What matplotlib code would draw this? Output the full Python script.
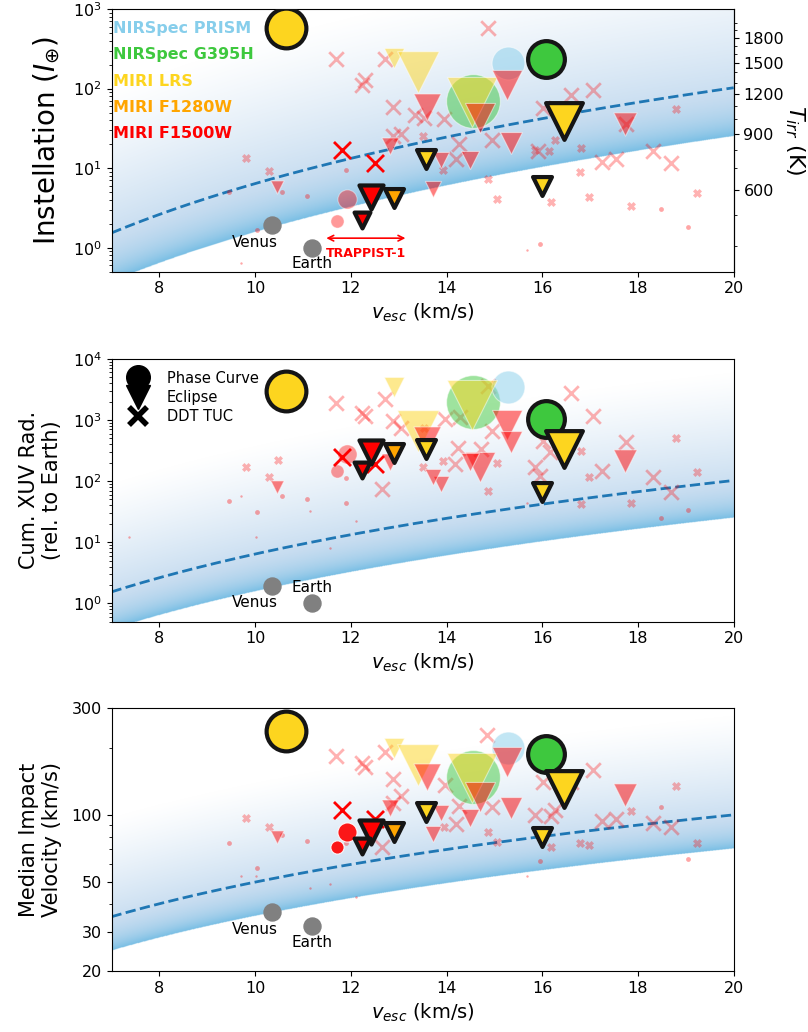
import numpy as np
import matplotlib
matplotlib.use('Agg')
import matplotlib.pyplot as plt
from matplotlib.colors import LinearSegmentedColormap
from matplotlib.lines import Line2D
from matplotlib.ticker import FixedLocator, NullFormatter, FixedFormatter

# ---------------- data ----------------
# highlighted targets (black outline)
hl_vesc = [10.65, 16.07, 16.46, 13.57, 15.99, 12.91, 12.42, 12.23]
hl_inst = [571, 234, 39.7, 13.2, 5.9, 4.2, 4.36, 2.24]
hl_xuv = [2950, 1042, 331, 337, 65.6, 293, 296, 152]
hl_vimp = [238, 188, 130, 103, 79.3, 84, 84, 72.3]
hl_obs = ['phase', 'phase', 'eclipse', 'eclipse', 'eclipse', 'eclipse', 'eclipse', 'eclipse']
hl_mode = ['MIRI LRS', 'NIRSpec G395H', 'MIRI LRS', 'MIRI LRS', 'MIRI LRS',
           'MIRI F1280W', 'MIRI F1500W', 'MIRI F1500W']
hl_size = [820, 700, 700, 185, 185, 185, 300, 130]

# other programs (semi transparent)
ot_vesc = [14.55, 15.29, 11.92, 11.72,
           12.91, 13.41, 14.53,
           15.26, 13.59, 14.70, 12.82, 15.34, 14.49, 13.88, 13.71, 10.45, 17.73]
ot_inst = [70, 208, 4.1, 2.2,
           240, 163, 68,
           111, 59.5, 43.3, 19.1, 20.7, 12.8, 12.5, 5.4, 5.8, 36]
ot_xuv = [1950, 3520, 279, 149,
          3430, 670, 1786,
          841, 472, 168, 203, 431, 203, 90, 115, 79, 211]
ot_vimp = [147, 199, 84, 72,
           199, 167, 146,
           173, 147, 120, 107, 107, 96.5, 102, 82, 80, 123]
ot_obs = ['phase'] * 4 + ['eclipse'] * 13
ot_mode = ['NIRSpec G395H', 'NIRSpec PRISM', 'MIRI F1500W', 'MIRI F1500W',
           'MIRI LRS', 'MIRI LRS', 'MIRI LRS'] + ['MIRI F1500W'] * 10
ot_size = [1500, 560, 190, 90,
           210, 900, 1300,
           470, 380, 470, 150, 250, 170, 135, 135, 90, 280]

# DDT TUC targets
ddt_vesc = [11.81, 12.51]
ddt_inst = [17.1, 11.6]
ddt_xuv = [245, 191]
ddt_vimp = [105, 96]

# solar system
ss_name = ['Venus', 'Earth']
ss_vesc = [10.36, 11.19]
ss_inst = [1.91, 1.0]
ss_xuv = [1.9, 1.0]
ss_vimp = [36.6, 31.8]

# background population, per panel: (v_esc, value)
bg_bigx = [
    [(11.69, 237), (12.30, 128), (12.23, 111), (12.72, 237), (14.86, 571), (12.89, 59.5),
     (13.34, 45.9), (13.54, 42.6), (13.95, 41.7), (13.04, 26.8), (12.88, 25.0), (14.27, 20.3),
     (14.19, 13.0), (14.95, 22.8), (16.6, 83.4), (17.07, 96.4), (16.02, 56.8), (15.92, 16.2),
     (17.24, 11.8), (17.54, 13), (18.32, 16.2), (18.69, 11.6), (17.75, 36)],
    [(11.69, 1877), (12.30, 1180), (12.23, 1300), (12.72, 2215), (14.86, 3650), (12.89, 977),
     (13.04, 743), (13.97, 1042), (14.28, 1107), (14.94, 670), (14.25, 349), (14.73, 336),
     (14.18, 191), (12.65, 74.5), (16.6, 2735), (17.07, 1180), (17.76, 431), (17.24, 149),
     (18.31, 115), (18.69, 65.6), (15.85, 168), (15.95, 123), (16.17, 296), (16.02, 449)],
    [(11.69, 183), (12.30, 164), (12.23, 170), (12.72, 192), (12.89, 144), (13.04, 121),
     (12.88, 113), (13.97, 136), (14.85, 228), (14.95, 108), (14.27, 110), (14.19, 91),
     (12.65, 72), (16.02, 141), (17.07, 158), (15.85, 100), (16.18, 99), (16.27, 105),
     (17.24, 94), (17.54, 95.5), (18.32, 92), (18.69, 88.5), (16.6, 140)],
]
bg_smallx = [
    [(13.5, 25), (13.93, 9.6), (14.87, 7.3), (15.05, 4.1), (16.15, 16.2), (16.27, 22.8),
     (16.8, 17.9), (16.79, 8.9), (16.98, 4.4), (16.18, 3.8), (17.85, 3.3), (19.23, 4.9),
     (18.79, 55), (9.8, 13.4), (10.3, 9.1), (15.85, 17)],
    [(13.52, 743), (16.82, 316), (16.98, 115), (16.8, 42.4), (17.85, 44), (18.79, 501),
     (19.23, 139), (15.05, 199), (14.87, 70), (13.93, 216), (13.5, 173), (9.8, 168),
     (10.47, 225), (10.3, 115)],
    [(17.85, 104), (18.79, 135), (16.79, 75), (16.98, 73.5), (19.23, 75), (16.18, 72),
     (14.87, 83.6), (15.05, 75.8), (13.95, 88.5), (9.8, 96.5), (10.3, 88.5)],
]
bg_dot = [
    [(11.89, 9.4), (9.46, 5.0), (10.57, 5.0), (11.09, 4.5), (10.03, 1.65), (18.48, 3.06),
     (19.05, 1.81), (15.95, 1.12)],
    [(18.48, 24.6), (19.05, 34), (11.89, 113), (9.46, 48), (10.57, 58), (11.09, 51),
     (10.03, 31), (11.89, 44)],
    [(18.48, 108), (19.05, 63.7), (15.95, 62), (10.57, 81), (9.46, 74.6), (11.09, 76),
     (10.03, 58), (11.89, 75)],
]
bg_tiny = [
    [(9.7, 0.65), (15.68, 0.93)],
    [(15.68, 43), (9.7, 58), (10.02, 12), (11.15, 32), (11.57, 8.1), (12.11, 22), (7.37, 12)],
    [(15.68, 53), (9.7, 53), (10.02, 53), (11.15, 47), (11.57, 49), (12.11, 43)],
]

instruments = ['NIRSpec PRISM', 'NIRSpec G395H', 'MIRI LRS', 'MIRI F1280W', 'MIRI F1500W']
inst_color = {'NIRSpec PRISM': '#87ceeb', 'NIRSpec G395H': '#3ec83e', 'MIRI LRS': '#fdd51f',
              'MIRI F1280W': '#ffa500', 'MIRI F1500W': '#ff0000'}
obs_marker = {'phase': 'o', 'eclipse': 'v'}

# ---------------- figure ----------------
fig = plt.figure(figsize=(8.08, 10.32), dpi=100)
left, width = 0.138, 0.770
bottoms = [0.7367, 0.3976, 0.0591]
height = 0.2546
axes = [fig.add_axes([left, b, width, height]) for b in bottoms]

# white -> sky blue (background is white)
band_cmap = LinearSegmentedColormap.from_list('band', ['#ffffff', '#c6dcf0', '#78bee4'])

ylims = [(0.5, 1000), (0.5, 1e4), (20, 300)]
yvals_hl = [hl_inst, hl_xuv, hl_vimp]
yvals_ot = [ot_inst, ot_xuv, ot_vimp]
yvals_ddt = [ddt_inst, ddt_xuv, ddt_vimp]
yvals_ss = [ss_inst, ss_xuv, ss_vimp]
red_circle_alpha = [0.4, 0.4, 0.9]
earth_offset = [(0, -11), (0, 11.5), (0, -12)]

for k, ax in enumerate(axes):
    ax.set_yscale('log')
    ax.set_xlim(7, 20)
    ax.set_ylim(*ylims[k])

    # cosmic shoreline band, computed on an axes-fraction grid
    if k < 2:
        low = lambda v: 1.6e-4 * v ** 4
        shore = lambda v: 6.4e-4 * v ** 4
        power = 1.0
    else:
        low = lambda v: 3.536 * v
        shore = lambda v: 5.0 * v
        power = 4.0
    u = np.linspace(0, 1, 600)
    w = np.linspace(0, 1, 800)
    U, W = np.meshgrid(u, w)
    lo, hi = np.log10(ylims[k][0]), np.log10(ylims[k][1])
    d = (lo + (hi - lo) * W - np.log10(low(7 + 13 * U))) * power
    inten = np.where(d >= 0, 0.62 * np.clip(1 - d / 2.4, 0, 1) ** 1.2 + 0.38 * np.exp(-d / 0.2), 0)
    ax.imshow(inten, cmap=band_cmap, vmin=0, vmax=1, extent=(0, 1, 0, 1), origin='lower',
              transform=ax.transAxes, aspect='auto', interpolation='bilinear', zorder=0)
    xs = np.linspace(7, 20, 200)
    ax.plot(xs, shore(xs), ls='--', color='#1f77b4', lw=2, zorder=1)

    # background population
    for pts, mk, s, lw, a in [(bg_bigx[k], 'x', 110, 2, 0.3), (bg_smallx[k], 'x', 22, 2.5, 0.3),
                              (bg_dot[k], 'o', 12, 0, 0.35), (bg_tiny[k], 'o', 3, 0, 0.35)]:
        px = [p[0] for p in pts]
        py = [p[1] for p in pts]
        ax.scatter(px, py, marker=mk, s=s, c='red', alpha=a, linewidths=lw, zorder=2)

    # other programs
    for i in range(len(ot_vesc)):
        col = inst_color[ot_mode[i]]
        a = 0.5
        if ot_mode[i] == 'MIRI F1500W' and ot_obs[i] == 'phase':
            a = red_circle_alpha[k]
        ax.scatter(ot_vesc[i], yvals_ot[k][i], marker=obs_marker[ot_obs[i]], s=ot_size[i],
                   c=col, alpha=a, edgecolors='white', linewidths=0.8, zorder=3)

    # DDT TUC
    ax.scatter(ddt_vesc, yvals_ddt[k], marker='x', s=150, c='red', linewidths=2, zorder=3)

    # highlighted programs
    for i in range(len(hl_vesc)):
        ax.scatter(hl_vesc[i], yvals_hl[k][i], marker=obs_marker[hl_obs[i]], s=hl_size[i],
                   c=inst_color[hl_mode[i]], edgecolors='#151515', linewidths=3, zorder=4)

    # Venus and Earth
    ax.scatter(ss_vesc, yvals_ss[k], s=150, c='gray', zorder=5)
    ax.annotate('Venus', (ss_vesc[0], yvals_ss[k][0]), xytext=(-12.5, -12),
                textcoords='offset points', ha='center', va='center', fontsize=11)
    ax.annotate('Earth', (ss_vesc[1], yvals_ss[k][1]), xytext=earth_offset[k],
                textcoords='offset points', ha='center', va='center', fontsize=11)

    ax.tick_params(labelsize=11.5)
    ax.set_xticks([8, 10, 12, 14, 16, 18, 20])
    ax.set_xlabel('$v_{esc}$ (km/s)', fontsize=14)

# ---- panel 1 ----
ax1 = axes[0]
ax1.set_ylabel(r'Instellation ($I_{\oplus}$)', fontsize=20)
for j, name in enumerate(instruments):
    ax1.text(0.003, 0.925 - j * 0.1, name, transform=ax1.transAxes, color=inst_color[name],
             fontsize=11.5, fontweight='bold', va='center', ha='left', zorder=6)
ax1.annotate('', xy=(11.43, 1.32), xytext=(13.2, 1.32),
             arrowprops=dict(arrowstyle='<->', color='red', lw=1.2), zorder=6)
ax1.text(12.32, 0.85, 'TRAPPIST-1', color='red', fontsize=9, fontweight='bold',
         ha='center', va='center', zorder=6)

sec = ax1.secondary_yaxis('right', functions=(lambda s: 394 * np.power(np.clip(s, 1e-9, None), 0.25),
                                               lambda t: (np.clip(t, 1e-9, None) / 394) ** 4))
tirr_major = [600, 900, 1200, 1500, 1800]
tirr_minor = [400, 500, 700, 800, 1000, 1100, 1300, 1400, 1600, 1700, 1900, 2000]
sec.yaxis.set_major_locator(FixedLocator(tirr_major))
sec.yaxis.set_major_formatter(FixedFormatter([str(t) for t in tirr_major]))
sec.yaxis.set_minor_locator(FixedLocator(tirr_minor))
sec.yaxis.set_minor_formatter(NullFormatter())
sec.tick_params(labelsize=11.5)
sec.set_ylabel('$T_{irr}$ (K)', fontsize=16, rotation=270, labelpad=16)

# ---- panel 2 ----
ax2 = axes[1]
ax2.set_ylabel('Cum. XUV Rad.\n(rel. to Earth)', fontsize=15)
handles = [Line2D([], [], ls='', marker='o', color='k', markersize=17),
           Line2D([], [], ls='', marker='v', color='k', markersize=17),
           Line2D([], [], ls='', marker='x', color='k', markersize=13, markeredgewidth=4)]
ax2.legend(handles, ['Phase Curve', 'Eclipse', 'DDT TUC'], loc='upper left', frameon=False,
           fontsize=10.5, labelspacing=0.3, handletextpad=1.0, borderaxespad=0.4)

# ---- panel 3 ----
ax3 = axes[2]
ax3.set_ylabel('Median Impact\nVelocity (km/s)', fontsize=15)
vimp_ticks = [20, 30, 50, 100, 300]
ax3.yaxis.set_major_locator(FixedLocator(vimp_ticks))
ax3.yaxis.set_major_formatter(FixedFormatter([str(t) for t in vimp_ticks]))
ax3.yaxis.set_minor_formatter(NullFormatter())

for ax in axes:
    ax.yaxis.set_label_coords(-0.08, 0.5)

fig.savefig('out.png', dpi=100)
